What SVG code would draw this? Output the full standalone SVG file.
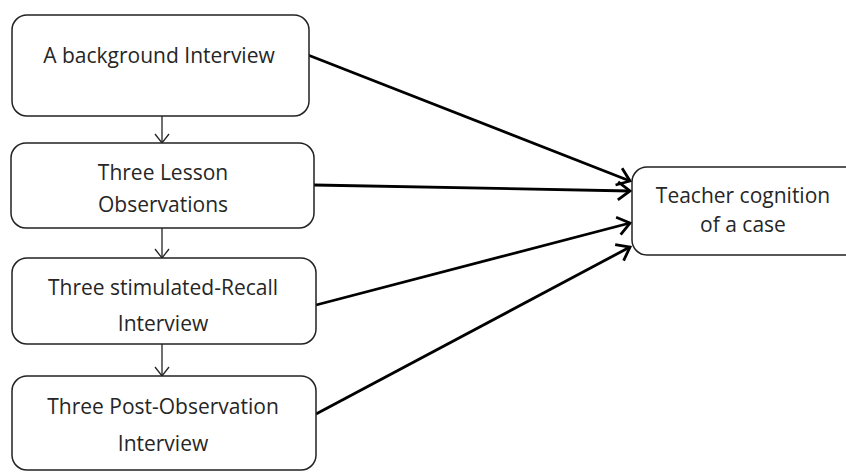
<svg xmlns="http://www.w3.org/2000/svg" width="846" height="472" viewBox="0 0 846 472">
<style>
.box{fill:#fff;stroke:#222;stroke-width:1.5}
.lbl{font-family:"Open Sans","Liberation Sans",sans-serif;font-size:21px;fill:#262626;text-anchor:middle}
.thin{stroke:#222;stroke-width:1.3;fill:none}
.thick{stroke:#000;stroke-width:2.8;fill:none}
</style>
<defs>
<marker id="vt" markerUnits="userSpaceOnUse" markerWidth="20" markerHeight="20" refX="10" refY="10" orient="auto" viewBox="0 0 20 20">
<path d="M1,3 L10,10 L1,17" fill="none" stroke="#222" stroke-width="1.3"/>
</marker>
<marker id="vk" markerUnits="userSpaceOnUse" markerWidth="24" markerHeight="24" refX="13" refY="12" orient="auto" viewBox="0 0 24 24">
<path d="M1,3 L13,12 L1,21" fill="none" stroke="#000" stroke-width="2.8"/>
</marker>
</defs>
<rect width="846" height="472" fill="#fff"/>
<g id="connectors">
<line class="thin" x1="162" y1="111" x2="162" y2="143" marker-end="url(#vt)"/>
<line class="thin" x1="162" y1="223" x2="162" y2="258" marker-end="url(#vt)"/>
<line class="thin" x1="162" y1="337" x2="162" y2="376" marker-end="url(#vt)"/>
<line class="thick" x1="308" y1="55" x2="630" y2="181" marker-end="url(#vk)"/>
<line class="thick" x1="314" y1="185" x2="630" y2="191" marker-end="url(#vk)"/>
<line class="thick" x1="316" y1="305" x2="630" y2="223" marker-end="url(#vk)"/>
<line class="thick" x1="316" y1="414" x2="630" y2="247" marker-end="url(#vk)"/>
</g>
<g id="n1">
<rect class="box" x="12" y="15" width="297" height="101" rx="15"/>
<text class="lbl" x="159" y="63">A background Interview</text>
</g>
<g id="n2">
<rect class="box" x="11" y="143" width="303" height="85" rx="15"/>
<text class="lbl" x="163" y="180">Three Lesson</text>
<text class="lbl" x="163" y="212">Observations</text>
</g>
<g id="n3">
<rect class="box" x="12" y="258" width="304" height="86" rx="15"/>
<text class="lbl" x="163" y="295">Three stimulated-Recall</text>
<text class="lbl" x="163" y="331">Interview</text>
</g>
<g id="n4">
<rect class="box" x="12" y="376" width="304" height="94" rx="15"/>
<text class="lbl" x="163" y="414">Three Post-Observation</text>
<text class="lbl" x="163" y="451">Interview</text>
</g>
<g id="n5">
<rect class="box" x="632" y="167" width="230" height="88" rx="15"/>
<text class="lbl" x="743" y="203">Teacher cognition</text>
<text class="lbl" x="743" y="232">of a case</text>
</g>
</svg>
